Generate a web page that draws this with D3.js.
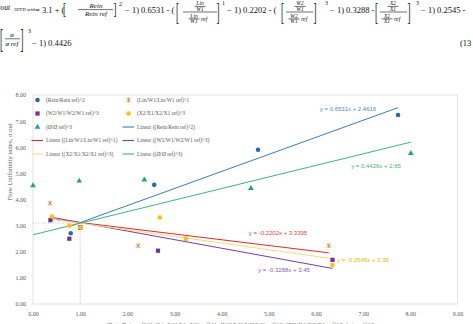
<!DOCTYPE html>
<html>
<head>
<meta charset="utf-8">
<script src="https://cdn.jsdelivr.net/npm/d3@7/dist/d3.min.js"></script>
<style>
  html, body { margin: 0; padding: 0; background: #fff; overflow: hidden; }
  svg { display: block; }
</style>
</head>
<body>
<script>

// ---- data ----
var seriesNames = ["(Rein/Rein ref)^2", "(Lin/W1/Lin/W1 ref)^1", "(W2/W1/W2/W1 ref)^3",
                   "(X2/X1/X2/X1 ref)^3", "(\u00D8/\u00D8 ref)^3"];
var reinX = [0.80, 1.00, 2.57, 4.77, 7.74];
var reinY = [2.71, 2.93, 4.56, 5.90, 7.23];
var linX  = [0.36, 1.00, 2.23, 3.24, 6.27];
var linY  = [3.86, 2.93, 2.23, 2.50, 2.23];
var w2X   = [0.37, 0.77, 1.00, 2.65, 6.35];
var w2Y   = [3.21, 2.50, 2.93, 2.04, 1.69];
var x2X   = [0.40, 0.77, 1.00, 2.69, 3.24, 6.35];
var x2Y   = [3.35, 3.00, 2.93, 3.31, 2.50, 1.49];
var phiX  = [0.00, 0.98, 2.36, 4.62, 8.01];
var phiY  = [4.53, 4.71, 4.75, 4.43, 5.77];

// linear trendlines y = slope*x + intercept
var trendSlopes     = [0.6531, -0.2202, -0.3288, -0.2545, 0.4426];
var trendIntercepts = [2.4616, 3.3395, 3.45, 3.35, 2.65];
var trendLabels = ["y = 0.6531x + 2.4616", "y = -0.2202x + 3.3395", "y = -0.3288x + 3.45",
                   "y = -0.2545x + 3.35", "y = 0.4426x + 2.65"];

var xTicks = d3.range(0, 10);
var yTicks = d3.range(0, 9);
var refPoint = [1, 3.1];

// ---- styles ----
var markerColors = ["#2468B2", "#ED7D31", "#7030A0", "#FFC000", "#1EA86A"];
var lineColors   = ["#3A7CC4", "#E3262B", "#7A3CA8", "#FADB7A", "#3DB57C"];
var labelColors  = ["#4C88C8", "#E0453F", "#8462B2", "#F0B400", "#4DB36E"];
var markerTypes  = ["circle", "star", "square", "circle", "triangle"];
var labelPos     = [[348, 111], [278, 235], [284, 272], [363, 262], [376, 168]];

var width = 473, height = 324;
var serif = "'Liberation Serif', 'Times New Roman', serif";
var sans = "'Liberation Sans Narrow', 'Liberation Sans', Arial, sans-serif";

var svg = d3.select("body").append("svg")
  .attr("width", width).attr("height", height);

// ---- equation above the chart ----
var eq = svg.append("g").attr("fill", "#111").style("font-family", serif);

var t = function (x, yy, s, size, italic, anchor) {
  return eq.append("text")
    .attr("x", x).attr("y", yy)
    .style("font-size", size + "px")
    .style("font-style", italic ? "italic" : "normal")
    .attr("text-anchor", anchor || "start")
    .text(s);
};
var bar = function (x1, x2, yy) {
  eq.append("line").attr("x1", x1).attr("x2", x2).attr("y1", yy).attr("y2", yy)
    .attr("stroke", "#111").attr("stroke-width", 0.6);
};
var bracket = function (x, top, bottom, s) {
  var h = bottom - top;
  eq.append("text")
    .attr("transform", "translate(" + x + "," + bottom + ") scale(0.9," + (h / 8.5) + ")")
    .attr("y", -1.8)
    .style("font-size", "10px")
    .text(s);
};
// small stacked fraction a/b
var smallFrac = function (cx, ytop, a, b, w) {
  t(cx, ytop, a, 5.5, true, "middle");
  bar(cx - w / 2, cx + w / 2, ytop + 1.4);
  t(cx, ytop + 5.6, b, 5.5, true, "middle");
};

var base1 = 12.5;
t(-4, 10, "\u03C3", 9, true);
t(0.5, 10, "out", 7.5, true);
t(14, 10.5, "3DTD acfd", 4.6, false);
t(35, base1, "= 3.1 + (", 8.5, false);
bracket(63, 3.5, 18, "[");
t(96, 7.5, "Rein", 7, true, "middle");
bar(78, 113, 9.6);
t(96, 16.3, "Rein ref", 7, true, "middle");
bracket(113.5, 3.5, 18, "]");
t(119, 6, "2", 6, false);
t(125, base1, "\u2212 1) 0.6531 - (", 8.5, false);

bracket(176, 3, 25, "[");
smallFrac(200, 5, "Lin", "W1", 11);
bar(183, 217, 12);
smallFrac(194, 17.5, "Lin", "W1", 11);
t(201, 21, "ref", 6, true);
bracket(216.5, 3, 25, "]");
t(222, 5, "1", 6, false);
t(227, base1, "\u2212 1) 0.2202 - (", 8.5, false);

bracket(281, 3, 25, "[");
smallFrac(300, 5, "W2", "W1", 11);
bar(286, 313, 12);
smallFrac(294, 17.5, "W2", "W1", 11);
t(301, 21, "ref", 6, true);
bracket(313.5, 3, 25, "]");
t(325, 5, "3", 6, false);
t(330, base1, "\u2212 1) 0.3288 -", 8.5, false);

bracket(375, 3, 25, "[");
smallFrac(393, 5, "X2", "X1", 11);
bar(380, 407, 12);
smallFrac(387, 17.5, "X2", "X1", 11);
t(394, 21, "ref", 6, true);
bracket(407.5, 3, 25, "]");
t(416, 5, "3", 6, false);
t(421, base1, "\u2212 1) 0.2545 -", 8.5, false);

var base2 = 46;
bracket(0, 29, 53, "[");
t(12, 36.5, "\u00F8", 7, true, "middle");
bar(5, 20, 38.8);
t(12, 45.5, "\u00F8 ref", 7, true, "middle");
bracket(20.5, 29, 53, "]");
t(28, 33, "3", 6, false);
t(32, base2, "\u2212 1) 0.4426", 8.5, false);
t(460, base2, "(13", 8.5, false);

// ---- chart ----
var x = d3.scaleLinear().domain([0, 9]).range([33, 457.5]);
var y = d3.scaleLinear().domain([0, 8]).range([304, 95]);

var chart = svg.append("g");

chart.append("rect")
  .attr("x", x(0)).attr("y", y(8))
  .attr("width", x(9) - x(0)).attr("height", y(0) - y(8))
  .attr("fill", "none").attr("stroke", "#D9D9D9").attr("stroke-width", 0.8);

var xAxis = chart.append("g")
  .attr("transform", "translate(0," + y(0) + ")")
  .call(d3.axisBottom(x).tickValues(xTicks).tickSize(0).tickPadding(8)
    .tickFormat(d3.format(".2f")));
var yAxis = chart.append("g")
  .attr("transform", "translate(" + x(0) + ",0)")
  .call(d3.axisLeft(y).tickValues(yTicks).tickSize(0).tickPadding(7)
    .tickFormat(d3.format(".2f")));

[xAxis, yAxis].forEach(function (a) {
  a.select(".domain").remove();
  a.selectAll("text")
    .attr("fill", "#595959")
    .style("font-family", serif)
    .style("font-size", "6px");
});

// axis titles
chart.append("text")
  .attr("transform", "translate(12,162) rotate(-90)")
  .attr("text-anchor", "middle")
  .attr("fill", "#595959")
  .style("font-family", serif).style("font-size", "6.5px")
  .text("Flow Uniformity index, \u03C3 out");

chart.append("text")
  .attr("x", 240).attr("y", 327)
  .attr("text-anchor", "middle")
  .attr("fill", "#595959")
  .style("font-family", serif).style("font-size", "6.5px")
  .text("(Rein/Rein ref)^2, (Lin/W1/Lin/W1 ref)^1, (W2/W1/W2/W1 ref)^3, (X2/X1/X2/X1 ref)^3, (\u00F8/\u00F8 ref)^3");

// reference dotted lines
chart.append("path")
  .attr("d", "M" + x(0) + "," + y(refPoint[1]) + "H" + x(refPoint[0]) + "V" + y(0))
  .attr("fill", "none").attr("stroke", "#A6A6A6")
  .attr("stroke-width", 0.7).attr("stroke-dasharray", "1,1.5");

// series table
var allX = [reinX, linX, w2X, x2X, phiX];
var allY = [reinY, linY, w2Y, x2Y, phiY];
var series = seriesNames.map(function (name, i) {
  return {
    name: name,
    points: allX[i].map(function (v, j) { return [v, allY[i][j]]; }),
    slope: trendSlopes[i], intercept: trendIntercepts[i],
    label: trendLabels[i], i: i
  };
});

// trendlines
var line = d3.line()
  .x(function (d) { return x(d[0]); })
  .y(function (d) { return y(d[1]); });

chart.selectAll(".trend")
  .data(series).enter()
  .append("path")
    .attr("class", "trend")
    .attr("fill", "none")
    .attr("stroke", function (d) { return lineColors[d.i]; })
    .attr("stroke-width", 1)
    .attr("d", function (d) {
      var ext = d3.extent(d.points, function (p) { return p[0]; });
      return line(ext.map(function (v) { return [v, d.slope * v + d.intercept]; }));
    });

// markers
var markerPath = function (type) {
  if (type === "circle") return d3.symbol(d3.symbolCircle, 16)();
  if (type === "square") return d3.symbol(d3.symbolSquare, 18)();
  if (type === "triangle") return d3.symbol(d3.symbolTriangle, 14)();
  return "M-2,-2L2,2M-2,2L2,-2M0,-2.4L0,2.4";
};
var drawMarker = function (g, type, color) {
  var p = g.append("path").attr("d", markerPath(type));
  if (type === "star") {
    p.attr("fill", "none").attr("stroke", color).attr("stroke-width", 0.9);
  } else {
    p.attr("fill", color);
  }
};

series.forEach(function (s) {
  chart.selectAll(".pt" + s.i)
    .data(s.points).enter()
    .append("g")
      .attr("class", "pt" + s.i)
      .attr("transform", function (d) { return "translate(" + x(d[0]) + "," + y(d[1]) + ")"; })
      .each(function () { drawMarker(d3.select(this), markerTypes[s.i], markerColors[s.i]); });
});

// trendline equations
chart.selectAll(".eqlabel")
  .data(series).enter()
  .append("text")
    .attr("class", "eqlabel")
    .attr("x", function (d) { return labelPos[d.i][0]; })
    .attr("y", function (d) { return labelPos[d.i][1]; })
    .attr("text-anchor", "middle")
    .attr("fill", function (d) { return labelColors[d.i]; })
    .style("font-family", sans).style("font-size", "6px")
    .text(function (d) { return d.label; });

// legend
var legendItems = [];
series.forEach(function (s) {
  legendItems.push({kind: "marker", i: s.i, text: s.name});
});
series.forEach(function (s) {
  legendItems.push({kind: "line", i: s.i, text: "Linear (" + s.name + ")"});
});
var colX = [37.5, 128.5], rowY = [100, 113.5, 127, 140.5, 154];

var legend = chart.selectAll(".legend")
  .data(legendItems).enter()
  .append("g")
    .attr("class", "legend")
    .attr("transform", function (d, k) {
      return "translate(" + colX[k % 2] + "," + rowY[Math.floor(k / 2)] + ")";
    });

legend.each(function (d) {
  var g = d3.select(this);
  if (d.kind === "marker") {
    drawMarker(g, markerTypes[d.i], markerColors[d.i]);
  } else {
    g.append("line").attr("x1", -6).attr("x2", 5.5)
      .attr("stroke", lineColors[d.i]).attr("stroke-width", 1.1);
  }
  g.append("text")
    .attr("x", 8.5).attr("dy", "0.33em")
    .attr("fill", "#595959")
    .style("font-family", serif).style("font-size", "5.5px")
    .text(d.text);
});

</script>
</body>
</html>
